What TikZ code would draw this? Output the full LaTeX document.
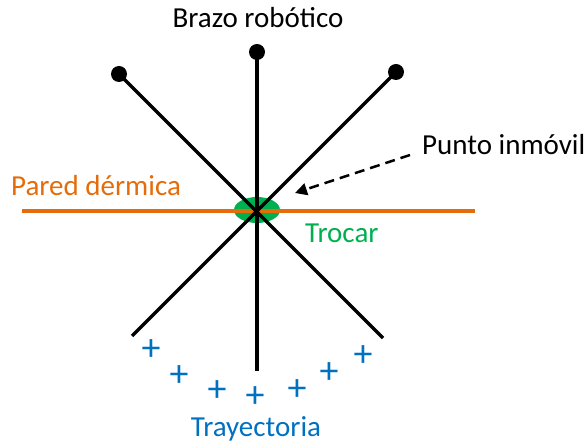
\documentclass[tikz,border=0pt]{standalone}
\usepackage{fontspec}
\setmainfont{Carlito}
\usetikzlibrary{arrows.meta,shapes.geometric}
\definecolor{dermorange}{RGB}{228,108,10}
\definecolor{trocargreen}{RGB}{0,176,80}
\definecolor{trajblue}{RGB}{0,112,192}

\begin{document}
\begin{tikzpicture}[
  x=1pt, y=-1pt,
  lbl/.style={font=\fontsize{29}{34}\selectfont, inner sep=0pt},
  arm/.style={line width=3.5pt, black},
  joint/.style={circle, fill=black, inner sep=0pt, minimum size=16pt},
  trajmark/.style={font=\fontsize{38}{44}\selectfont, text=trajblue, inner sep=0pt},
  dasharr/.style={-{Triangle[length=12pt,width=12pt]}, line width=2.5pt, dash pattern=on 10pt off 6pt}
]
  \useasboundingbox (0,0) rectangle (587,443);

  \coordinate (pivot) at (257,210);
  \node[ellipse, fill=trocargreen, minimum width=46pt, minimum height=26pt, inner sep=0pt] (trocar) at (pivot) {};

  % pared dermica
  \coordinate (wallL) at (22,211);
  \coordinate (wallR) at (475,211);
  \draw[line width=3.5pt, dermorange] (wallL) -- (wallR);

  % brazos
  \node[joint] (jtop) at (257,52) {};
  \node[joint] (jleft) at (119,74) {};
  \node[joint] (jright) at (396,72) {};
  \coordinate (ebot) at (257,371);
  \coordinate (eleft) at (132,336);
  \coordinate (eright) at (383,338);
  \draw[arm] (jtop.center) -- (ebot);
  \draw[arm] (jleft.center) -- (eright);
  \draw[arm] (jright.center) -- (eleft);

  % textos
  \node[lbl, anchor=base] (brazo) at (258,28) {Brazo robótico};
  \node[lbl, anchor=base west] (punto) at (422,155) {Punto inmóvil};
  \node[lbl, anchor=base west, text=dermorange] (pared) at (11,196) {Pared dérmica};
  \node[lbl, anchor=base west, text=trocargreen] (trocarlbl) at (305,243) {Trocar};
  \node[lbl, anchor=base, text=trajblue] (tray) at (256,437) {Trayectoria};

  % punto inmovil
  \coordinate (ptail) at (410,155);
  \coordinate (ptip) at (295,193);
  \draw[dasharr] (ptail) -- (ptip);

  % trayectoria
  \foreach \px/\py [count=\i] in {151/350, 179/376, 217/391, 255/397, 297/390, 329/373, 363/356}
    \node[trajmark] (m\i) at (\px,\py) {+};
\end{tikzpicture}
\end{document}
